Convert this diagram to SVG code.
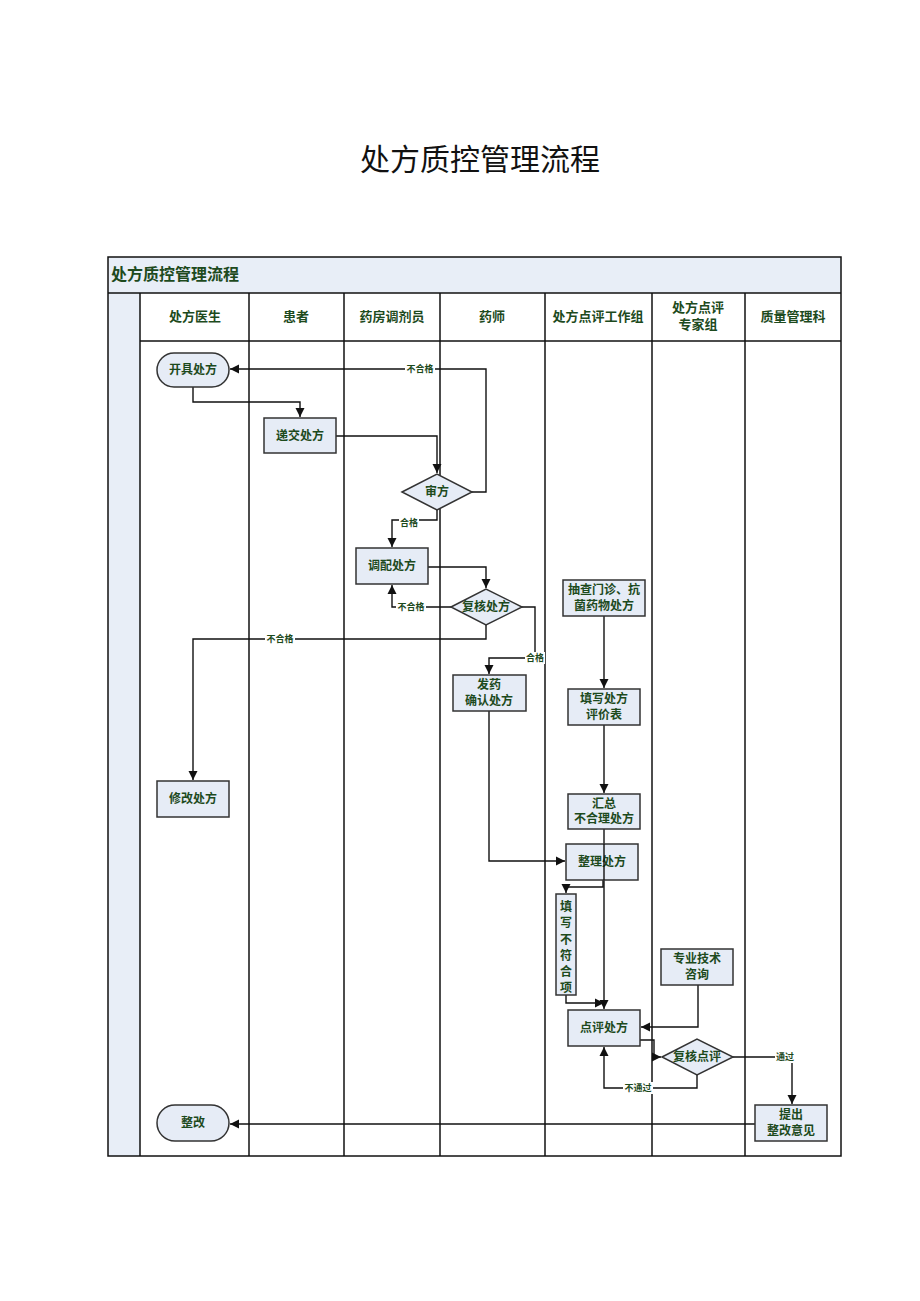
<svg xmlns="http://www.w3.org/2000/svg" width="920" height="1301" viewBox="0 0 920 1301">
<defs>
<marker id="ah" markerWidth="10" markerHeight="10" refX="9" refY="5" orient="auto" markerUnits="userSpaceOnUse">
<path d="M0,0.5 L9,5 L0,9.5 Z" fill="#111"/>
</marker>
<style>
.pt{font-family:"Noto Sans CJK SC","Noto Sans",sans-serif;font-size:30px;fill:#111;text-anchor:middle}
.t{font-family:"Noto Sans CJK SC",sans-serif;font-weight:bold;fill:#1d4a1d;text-anchor:middle;font-size:12px}
.h{font-family:"Noto Sans CJK SC",sans-serif;font-weight:bold;fill:#1d4a1d;text-anchor:middle;font-size:13px}
.lb{font-family:"Noto Sans CJK SC",sans-serif;font-weight:bold;fill:#1d4a1d;text-anchor:middle;font-size:9px}
.n{fill:#e6ecf6;stroke:#333;stroke-width:1.5}
.cl{stroke:#111;stroke-width:1.5;fill:none}
.c{stroke:#111;stroke-width:1.4;fill:none;marker-end:url(#ah)}
.cn{stroke:#111;stroke-width:1.4;fill:none}
.lbg{fill:#fff}
</style>
</defs>
<rect width="920" height="1301" fill="#fff"/>
<text class="pt" x="480" y="170">处方质控管理流程</text>

<g id="frame">
<rect x="108" y="257" width="733" height="36" fill="#e8eef7"/>
<rect x="108" y="293" width="32" height="863" fill="#e8eef7"/>
<rect x="108" y="257" width="733" height="899" class="cl"/>
<line x1="108" y1="293" x2="841" y2="293" class="cl"/>
<line x1="140" y1="341" x2="841" y2="341" class="cl"/>
<line x1="140" y1="293" x2="140" y2="1156" class="cl"/>
<line x1="249" y1="293" x2="249" y2="1156" class="cl"/>
<line x1="344" y1="293" x2="344" y2="1156" class="cl"/>
<line x1="440" y1="293" x2="440" y2="1156" class="cl"/>
<line x1="545" y1="293" x2="545" y2="1156" class="cl"/>
<line x1="652" y1="293" x2="652" y2="1156" class="cl"/>
<line x1="745" y1="293" x2="745" y2="1156" class="cl"/>
<text x="111" y="280" font-family="Noto Sans CJK SC, sans-serif" font-weight="bold" font-size="16" fill="#1d4a1d">处方质控管理流程</text>
<text class="h" x="195" y="321">处方医生</text>
<text class="h" x="296" y="321">患者</text>
<text class="h" x="392" y="321">药房调剂员</text>
<text class="h" x="492" y="321">药师</text>
<text class="h" x="598" y="321">处方点评工作组</text>
<text class="h" x="698" y="312">处方点评</text>
<text class="h" x="698" y="329">专家组</text>
<text class="h" x="793" y="321">质量管理科</text>
</g>

<g id="connectors">
<path class="c" d="M193,387 V402 H300 V417"/>
<path class="c" d="M336,436 H437 V473"/>
<path class="c" d="M472,492 H486 V369 H230"/>
<path class="c" d="M437,510 V520 H392 V547"/>
<path class="c" d="M428,567 H486 V588"/>
<path class="c" d="M451,607 H392 V585"/>
<path class="c" d="M486,625 V639 H193 V780"/>
<path class="c" d="M522,607 H535 V658 H489 V674"/>
<path class="c" d="M489,711 V861 H565"/>
<path class="c" d="M604,616 V688"/>
<path class="c" d="M604,725 V793"/>
<path class="c" d="M604,829 V1009"/>
<path class="c" d="M603,880 V887 H566 V893"/>
<path class="c" d="M566,995 V1003 H604"/>
<path class="c" d="M698,985 V1027 H641"/>
<path class="c" d="M640,1040 H654 V1057 H661"/>
<path class="c" d="M697,1075 V1088 H604 V1047"/>
<path class="c" d="M733,1057 H792 V1104"/>
<path class="c" d="M755,1124 H230"/>
<rect class="lbg" x="405" y="363" width="30" height="12"/>
<text class="lb" x="420" y="372">不合格</text>
<rect class="lbg" x="399" y="517" width="20" height="12"/>
<text class="lb" x="409" y="526">合格</text>
<rect class="lbg" x="396" y="601" width="30" height="12"/>
<text class="lb" x="411" y="610">不合格</text>
<rect class="lbg" x="265" y="633" width="30" height="12"/>
<text class="lb" x="280" y="642">不合格</text>
<rect class="lbg" x="525" y="652" width="20" height="12"/>
<text class="lb" x="535" y="661">合格</text>
<rect class="lbg" x="623" y="1082" width="30" height="12"/>
<text class="lb" x="638" y="1091">不通过</text>
<rect class="lbg" x="775" y="1051" width="20" height="12"/>
<text class="lb" x="785" y="1060">通过</text>
</g>

<g id="n-kaiju"><rect class="n" x="157" y="353" width="72" height="34" rx="17"/><text class="t" x="193" y="374">开具处方</text></g>
<g id="n-dijiao"><rect class="n" x="264" y="418" width="72" height="35"/><text class="t" x="300" y="440">递交处方</text></g>
<g id="n-shenfang"><polygon class="n" points="402,492 437,474 472,492 437,510"/><text class="t" x="437" y="496">审方</text></g>
<g id="n-tiaopei"><rect class="n" x="356" y="548" width="72" height="36"/><text class="t" x="392" y="570">调配处方</text></g>
<g id="n-fuhe"><polygon class="n" points="451,607 486,589 522,607 486,625"/><text class="t" x="486" y="611">复核处方</text></g>
<g id="n-fayao"><rect class="n" x="453" y="675" width="73" height="36"/><text class="t" x="489" y="689">发药</text><text class="t" x="489" y="705">确认处方</text></g>
<g id="n-xiugai"><rect class="n" x="157" y="781" width="72" height="36"/><text class="t" x="193" y="803">修改处方</text></g>
<g id="n-choucha"><rect class="n" x="563" y="580" width="82" height="36"/><text class="t" x="604" y="594">抽查门诊、抗</text><text class="t" x="604" y="610">菌药物处方</text></g>
<g id="n-tianxie"><rect class="n" x="568" y="689" width="72" height="36"/><text class="t" x="604" y="703">填写处方</text><text class="t" x="604" y="719">评价表</text></g>
<g id="n-huizong"><rect class="n" x="568" y="794" width="72" height="35"/><text class="t" x="604" y="808">汇总</text><text class="t" x="604" y="823">不合理处方</text></g>
<g id="n-zhengli"><rect class="n" x="566" y="844" width="72" height="36"/><text class="t" x="602" y="866">整理处方</text></g>
<g id="n-bufuhe"><rect class="n" x="556" y="894" width="20" height="101"/>
<text class="t" x="566" y="911">填</text><text class="t" x="566" y="927">写</text><text class="t" x="566" y="944">不</text><text class="t" x="566" y="960">符</text><text class="t" x="566" y="976">合</text><text class="t" x="566" y="992">项</text></g>
<g id="n-zixun"><rect class="n" x="661" y="949" width="72" height="36"/><text class="t" x="697" y="963">专业技术</text><text class="t" x="697" y="979">咨询</text></g>
<g id="n-dianping"><rect class="n" x="568" y="1010" width="72" height="36"/><text class="t" x="604" y="1032">点评处方</text></g>
<g id="n-fuhedp"><polygon class="n" points="662,1057 697,1039 733,1057 697,1075"/><text class="t" x="697" y="1061">复核点评</text></g>
<g id="n-zhenggai"><rect class="n" x="157" y="1105" width="72" height="36" rx="18"/><text class="t" x="193" y="1127">整改</text></g>
<g id="n-tichu"><rect class="n" x="755" y="1105" width="72" height="36"/><text class="t" x="791" y="1119">提出</text><text class="t" x="791" y="1135">整改意见</text></g>

<g id="connector-overlay">
<path class="cn" d="M604,844 V880"/>
</g>
</svg>
